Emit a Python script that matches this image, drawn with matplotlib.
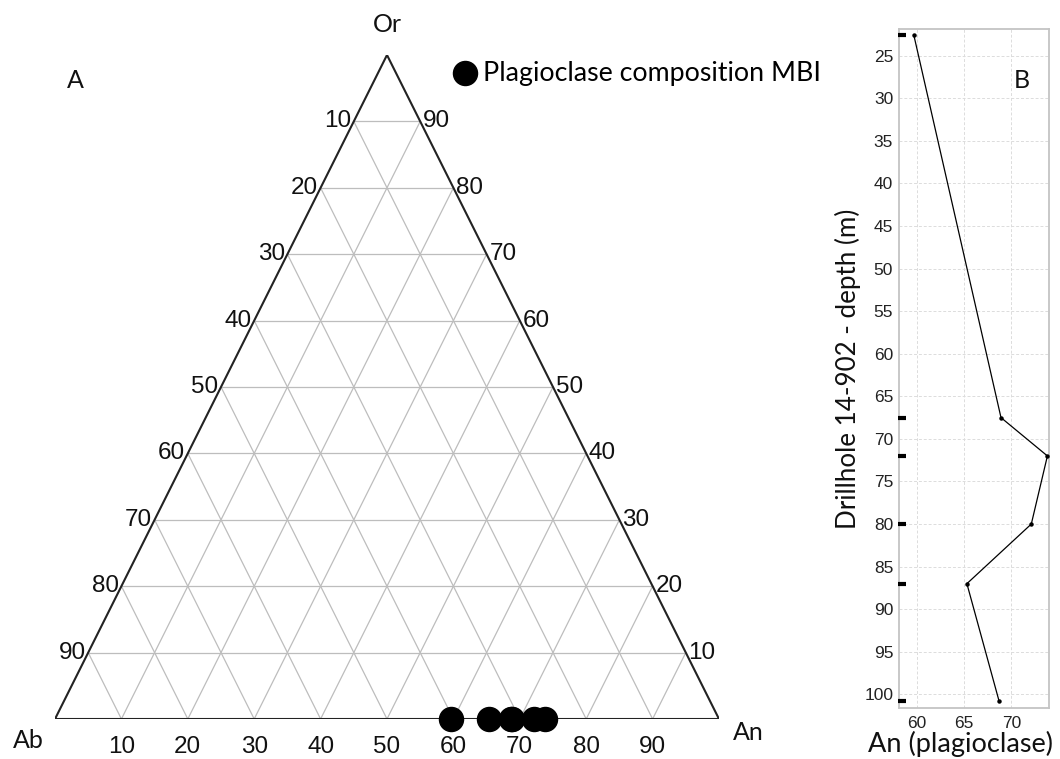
import matplotlib
matplotlib.use("Agg")
import matplotlib.pyplot as plt
import matplotlib.transforms as mtransforms

# Plagioclase analyses, drillhole 14-902
depth_m = [22.6, 67.5, 72.0, 80.0, 87.0, 100.8]
an_pct = [59.7, 68.9, 73.8, 72.1, 65.3, 68.7]
or_pct = [0.0, 0.0, 0.0, 0.0, 0.0, 0.0]

grid_steps = [10, 20, 30, 40, 50, 60, 70, 80, 90]
depth_ticks = [25, 30, 35, 40, 45, 50, 55, 60, 65, 70, 75, 80, 85, 90, 95, 100]
an_ticks = [60, 65, 70]

NUM_FONT = "Liberation Sans"
TXT_FONT = "Lato"

W, H = 1060, 759
fig = plt.figure(figsize=(W / 100, H / 100), dpi=100)


def fig_rect(left, top, right, bottom):
    return [left / W, 1 - bottom / H, (right - left) / W, (bottom - top) / H]


# ---------- Panel A: ternary Ab - An - Or ----------
ax = fig.add_axes(fig_rect(55, 55, 719, 719))
ax.set_xlim(0, 100)
ax.set_ylim(0, 100)
ax.axis("off")


def tern(an, orr):
    """Cartesian position for An and Or percentages (Ab = rest)."""
    return an + orr / 2.0, orr


grid_kw = dict(color="#bdbdbd", lw=0.9, zorder=1)
for k in grid_steps:
    # constant Or
    x0, y0 = tern(0, k)
    x1, y1 = tern(100 - k, k)
    ax.plot([x0, x1], [y0, y1], **grid_kw)
    # constant An
    x0, y0 = tern(k, 0)
    x1, y1 = tern(k, 100 - k)
    ax.plot([x0, x1], [y0, y1], **grid_kw)
    # constant Ab
    x0, y0 = tern(100 - k, 0)
    x1, y1 = tern(0, 100 - k)
    ax.plot([x0, x1], [y0, y1], **grid_kw)

corners = [tern(0, 0), tern(100, 0), tern(0, 100), tern(0, 0)]
ax.plot([c[0] for c in corners], [c[1] for c in corners],
        color="#222222", lw=1.5, zorder=2, solid_joinstyle="miter")

num_kw = dict(fontsize=17.5, family=NUM_FONT, color="#111111")
for k in grid_steps:
    # left edge
    x, y = tern(0, 100 - k)
    ax.text(x - 0.4, y, str(k), ha="right", va="center", **num_kw)
    # right edge
    x, y = tern(100 - k, k)
    ax.text(x + 0.4, y, str(k), ha="left", va="center", **num_kw)
    # base
    x, y = tern(k, 0)
    ax.text(x, -2.6, str(k), ha="center", va="top", **num_kw)

lab_kw = dict(fontsize=18, family=TXT_FONT, color="#111111",
              ha="center", va="center")
ax.text(50, 104.6, "Or", **lab_kw)
ax.text(-4.0, -3.2, "Ab", **lab_kw)
ax.text(104.4, -2.1, "An", **lab_kw)
ax.text(3.0, 96.2, "A", **lab_kw)

px = [tern(a, o)[0] for a, o in zip(an_pct, or_pct)]
py = [tern(a, o)[1] for a, o in zip(an_pct, or_pct)]
ax.scatter(px, py, s=300, color="black", zorder=5, clip_on=False,
           label="Plagioclase composition MBI")

leg = ax.legend(loc="center left", bbox_to_anchor=(454 / W, 1 - 73 / H),
                bbox_transform=fig.transFigure, frameon=False,
                handlelength=0.8, handletextpad=0.3, borderpad=0,
                borderaxespad=0, prop=dict(family=TXT_FONT, size=19.3))

# ---------- Panel B: An vs depth ----------
bx = fig.add_axes(fig_rect(898.7, 29.3, 1049.3, 708))
bx.plot(an_pct, depth_m, color="black", lw=0.9, marker="o", ms=2.2, zorder=3)
bx.set_xlim(58.1, 74.0)
bx.set_ylim(101.6, 21.9)
bx.set_xticks(an_ticks)
bx.set_yticks(depth_ticks)
bx.grid(True, color="#dcdcdc", lw=0.7, ls=(0, (3, 2)))
bx.set_axisbelow(True)
for sp in bx.spines.values():
    sp.set_color("#c4c4c4")
    sp.set_linewidth(1.3)
bx.tick_params(length=0, labelsize=12.5, labelcolor="#222222")
bx.tick_params(axis="y", pad=4)
bx.tick_params(axis="x", pad=6)
for t in bx.get_xticklabels() + bx.get_yticklabels():
    t.set_family(NUM_FONT)

# sample-depth rug along the depth axis
rug_tf = mtransforms.blended_transform_factory(bx.transAxes, bx.transData)
bx.plot([0.025] * len(depth_m), depth_m, ls="none", marker="_", ms=6,
        mew=3, color="black", transform=rug_tf, clip_on=False, zorder=4)

fig.text(961 / W, 1 - 744 / H, "An (plagioclase)", family=TXT_FONT,
         fontsize=19.5, ha="center", va="center", color="#111111")
bx.set_ylabel("Drillhole 14-902 - depth (m)", family=TXT_FONT, fontsize=18.7,
              labelpad=2, color="#111111")
bx.text(0.82, 0.925, "B", transform=bx.transAxes, ha="center", va="center",
        family=TXT_FONT, fontsize=18, color="#111111")

fig.savefig("out.png", dpi=100)
